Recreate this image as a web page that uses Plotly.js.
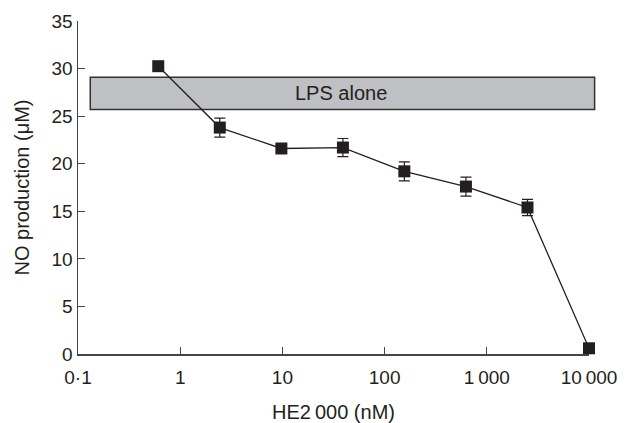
<!DOCTYPE html>
<html>
<head>
<meta charset="utf-8">
<script src="https://cdn.plot.ly/plotly-3.0.1.min.js"></script>
<style>html,body{margin:0;padding:0;background:#fff;}#chart{width:630px;height:423px;}</style>
</head>
<body>
<div id="chart"></div>
<script>
// HE2000 concentration (nM), 4-fold dilutions
const concentration = [0.61, 2.44, 9.77, 39.1, 156, 625, 2500, 10000];
// NO production (µM)
const noProduction = [30.25, 23.8, 21.6, 21.7, 19.2, 17.6, 15.4, 0.6];
const noError = [0, 1.0, 0.3, 0.95, 1.0, 1.0, 0.85, 0];
// LPS alone band (µM)
const lpsLow = 25.7;
const lpsHigh = 29.1;
const lpsLabel = 'LPS alone';
// axis ticks
const xTickVals = [0.1, 1, 10, 100, 1000, 10000];
const xTickText = ['0\u00b71', '1', '10', '100', '1\u2009000', '10\u2009000'];
const yTickVals = [0, 5, 10, 15, 20, 25, 30, 35];

const ink = '#231f20';
const font = {family: 'Liberation Sans, Arial, sans-serif', size: 19, color: ink};

const trace = {
  x: concentration,
  y: noProduction,
  type: 'scatter',
  mode: 'lines+markers',
  line: {color: ink, width: 1.3},
  marker: {symbol: 'square', size: 12, color: ink},
  error_y: {type: 'data', array: noError, visible: true, color: ink, thickness: 1.2, width: 5.5},
  cliponaxis: false,
  showlegend: false,
  hoverinfo: 'skip'
};

const layout = {
  width: 630, height: 423,
  margin: {l: 78, r: 41, t: 21, b: 69},
  paper_bgcolor: '#fff', plot_bgcolor: '#fff',
  font: font,
  showlegend: false,
  xaxis: {
    type: 'log', range: [-1, 4],
    tickvals: xTickVals, ticktext: xTickText,
    ticks: 'inside', ticklen: 7, tickwidth: 1.2, tickcolor: '#444',
    showline: true, linecolor: '#444', linewidth: 1.5,
    showgrid: false, zeroline: false,
    ticklabelstandoff: 6,
    tickfont: {size: 19, color: ink},
    title: {text: 'HE2\u2009000 (nM)', font: {size: 20, color: ink}, standoff: 20}
  },
  yaxis: {
    range: [0, 35], tickvals: yTickVals,
    ticks: 'inside', ticklen: 7, tickwidth: 1.2, tickcolor: '#444',
    showline: true, linecolor: '#444', linewidth: 1.5,
    showgrid: false, zeroline: false,
    tickfont: {size: 19, color: ink},
    title: {text: 'NO production (\u03bcM)', font: {size: 20, color: ink}, standoff: 16}
  },
  shapes: [{
    type: 'rect', layer: 'below',
    xref: 'paper', yref: 'y',
    x0: 0.024, x1: 1.011, y0: lpsLow, y1: lpsHigh,
    fillcolor: '#bfc0c3', line: {color: '#333', width: 1.5}
  }],
  annotations: [{
    xref: 'paper', yref: 'y', x: 0.515, y: (lpsLow + lpsHigh) / 2,
    text: lpsLabel, showarrow: false,
    font: {size: 20, color: ink}
  }]
};

Plotly.newPlot('chart', [trace], layout, {staticPlot: true, displayModeBar: false});
</script>
</body>
</html>
